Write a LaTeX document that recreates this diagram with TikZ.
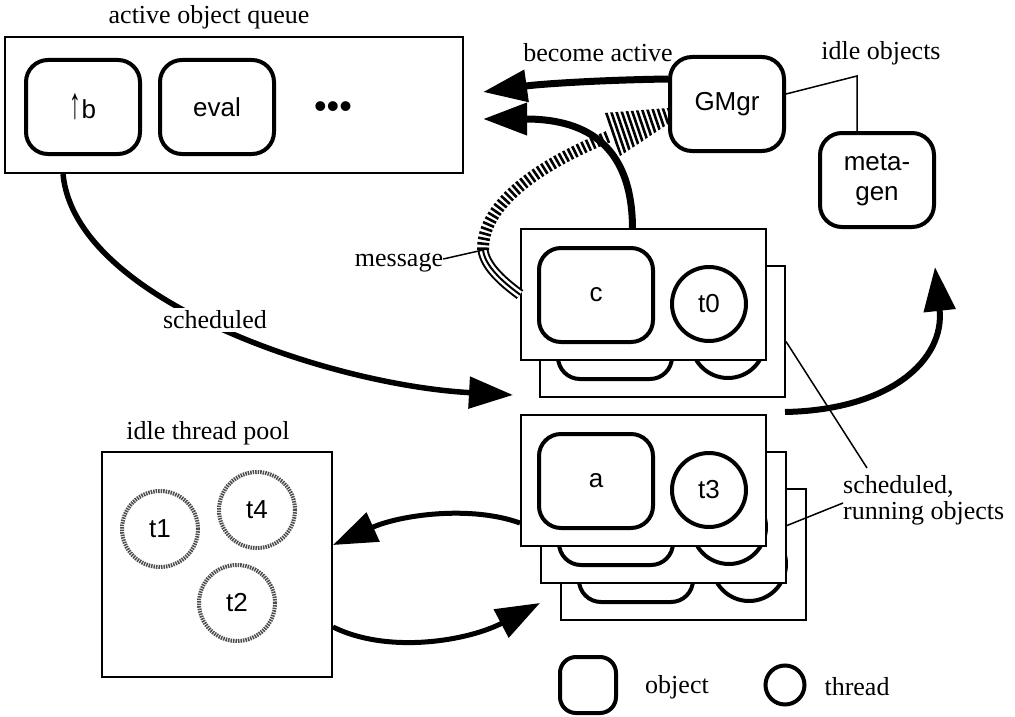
\documentclass[tikz,border=0pt]{standalone}
\usepackage{fontspec}
\setmainfont{Liberation Serif}
\newfontfamily\sansf{Liberation Sans}
\usetikzlibrary{arrows.meta,calc}

% one layer of a stack of running objects: frame, object and its thread
\newcommand\drawlayer[5]{%
  \node[frame] (#1) at (#2,#3) {};
  \node[obj] (#1o) at ($(#1.north west)+(76,67)$) {#4};
  \node[thr] (#1t) at ($(#1.north west)+(189,76)$) {#5};
}

\begin{document}
\begin{tikzpicture}[x=1pt,y=-1pt,
  every node/.style={inner sep=0pt},
  container/.style={draw,line width=2pt,fill=white},
  obj/.style={draw,line width=4pt,rounded corners=22pt,minimum width=114pt,
    minimum height=94pt,fill=white,font=\sansf\fontsize{26}{30}\selectfont,align=center},
  thr/.style={draw,circle,line width=4pt,minimum size=74pt,fill=white,
    font=\sansf\fontsize{26}{30}\selectfont},
  idlethr/.style={draw=black!70,circle,line width=4pt,dash pattern=on 1.5pt off 1pt,
    minimum size=76pt,font=\sansf\fontsize{26}{30}\selectfont},
  frame/.style={draw,line width=2pt,fill=white,minimum width=245pt,
    minimum height=131pt,anchor=north west},
  lbl/.style={font=\fontsize{26}{26}\selectfont},
  bigarrow/.style={line width=7pt,-{Triangle[length=44pt,width=31pt]}},
  pointer/.style={line width=1.5pt},
]
\useasboundingbox (0,0) rectangle (1015,717);

% active object queue
\node[lbl] (qtitle) at (209,17) {active object queue};
\node[container,minimum width=458pt,minimum height=136pt] (queue) at (234,105) {};
\node[obj] (ub) at (83,107) {\raisebox{-0.5pt}{\scalebox{0.9}[1.7]{↑}}b};
\node[obj] (eval) at (217,107) {eval};
\node[font=\sansf\fontsize{36}{36}\selectfont] (dots) at (333,110) {•••};

% manager and idle objects
\node[obj] (gmgr) at (727,104) {GMgr};
\node[obj] (meta) at (877,180) {meta-\\gen};
\node[lbl] (idlelbl) at (881,53) {idle objects};
\node[lbl] (activelbl) at (598,53) {become active};
\coordinate (ib) at (857,76);
\draw[pointer] ([yshift=10pt]gmgr.east) -- (ib) -- (ib |- meta.north);

% stacks of scheduled, running objects
\drawlayer{cb}{539}{265}{}{}
\drawlayer{cf}{520}{228}{c}{t0}
\drawlayer{athree}{560}{488}{}{}
\drawlayer{atwo}{540}{451}{}{}
\drawlayer{aone}{520}{414}{a}{t3}

\node[lbl,anchor=west,align=left] (run) at (843,500) {scheduled,\\running objects};
\coordinate (r1) at (867,468);
\draw[pointer] ([yshift=-10pt]cb.east) -- (r1);
\draw[pointer] ([yshift=-8pt]atwo.east) -- ([yshift=-3pt]run.west);

% idle thread pool
\node[lbl] (ptitle) at (208,433) {idle thread pool};
\node[container,minimum width=230pt,minimum height=225pt] (pool) at (217,564.5) {};
\node[idlethr] (tone) at (160,529) {t1};
\node[idlethr] (tfour) at (257,510) {t4};
\node[idlethr] (ttwo) at (237,603) {t2};

% legend
\node[obj,minimum width=56pt,minimum height=56pt,rounded corners=16pt] (legobj) at (588,685) {};
\node[lbl] (legobjlbl) at (677,687) {object};
\node[thr,minimum size=39pt] (legthr) at (785,685) {};
\node[lbl] (legthrlbl) at (857,687) {thread};

% become active
\coordinate (qa1) at (483,92);
\coordinate (qa2) at (483,119);
\draw[bigarrow] ([yshift=25pt]gmgr.west) .. controls (600,80) and (540,84) .. (qa1);
\draw[bigarrow] ([xshift=-11pt]cf.north) .. controls (632,140) and (580,119) .. (qa2);

% message from c to the manager
\coordinate (m1) at (483,250);
\coordinate (m2) at (610,136);
\draw[line width=11pt] (cf.west) .. controls (500,280) and (485,265) .. (m1);
\draw[line width=7pt,white] (cf.west) .. controls (500,280) and (485,265) .. (m1);
\draw[line width=2pt] (cf.west) .. controls (500,280) and (485,265) .. (m1);
\draw[line width=12pt,dash pattern=on 2.6pt off 2.4pt] (m1) .. controls (482,200) and (550,160) .. (m2);
\begin{scope}
  \clip (604,113) -- (620,156) -- ([yshift=-20pt]gmgr.west) -- ([yshift=-4pt]gmgr.west) -- cycle;
  \draw[line width=80pt,dash pattern=on 2.6pt off 2.4pt] ($(m2)!-0.2!(692,108)$) -- (692,108);
\end{scope}
\node[lbl] (msg) at (399,263) {message};
\draw[pointer] ([yshift=4pt]msg.east) -- (m1);

% scheduled
\coordinate (st) at (513,395);
\draw[bigarrow,line width=5.5pt] ([xshift=-171pt]queue.south) .. controls (75,300) and (330,385) .. (st);
\node[lbl,fill=white,inner sep=3pt] (schedlbl) at (215,320) {scheduled};

% finished objects become idle
\coordinate (ios) at (785,412);
\coordinate (iot) at (935,267);
\draw[bigarrow,line width=6pt] (ios) .. controls (890,410) and (945,360) .. (iot);

% threads returned to and taken from the pool
\coordinate (pt2) at (540,603);
\draw[bigarrow,line width=5pt] ([yshift=-42.5pt]aone.west) .. controls (470,505) and (400,515) .. ([yshift=19.5pt]pool.east);
\draw[bigarrow,line width=5pt] ([yshift=-62.5pt]pool.east) .. controls (390,655) and (470,640) .. (pt2);
\end{tikzpicture}
\end{document}
